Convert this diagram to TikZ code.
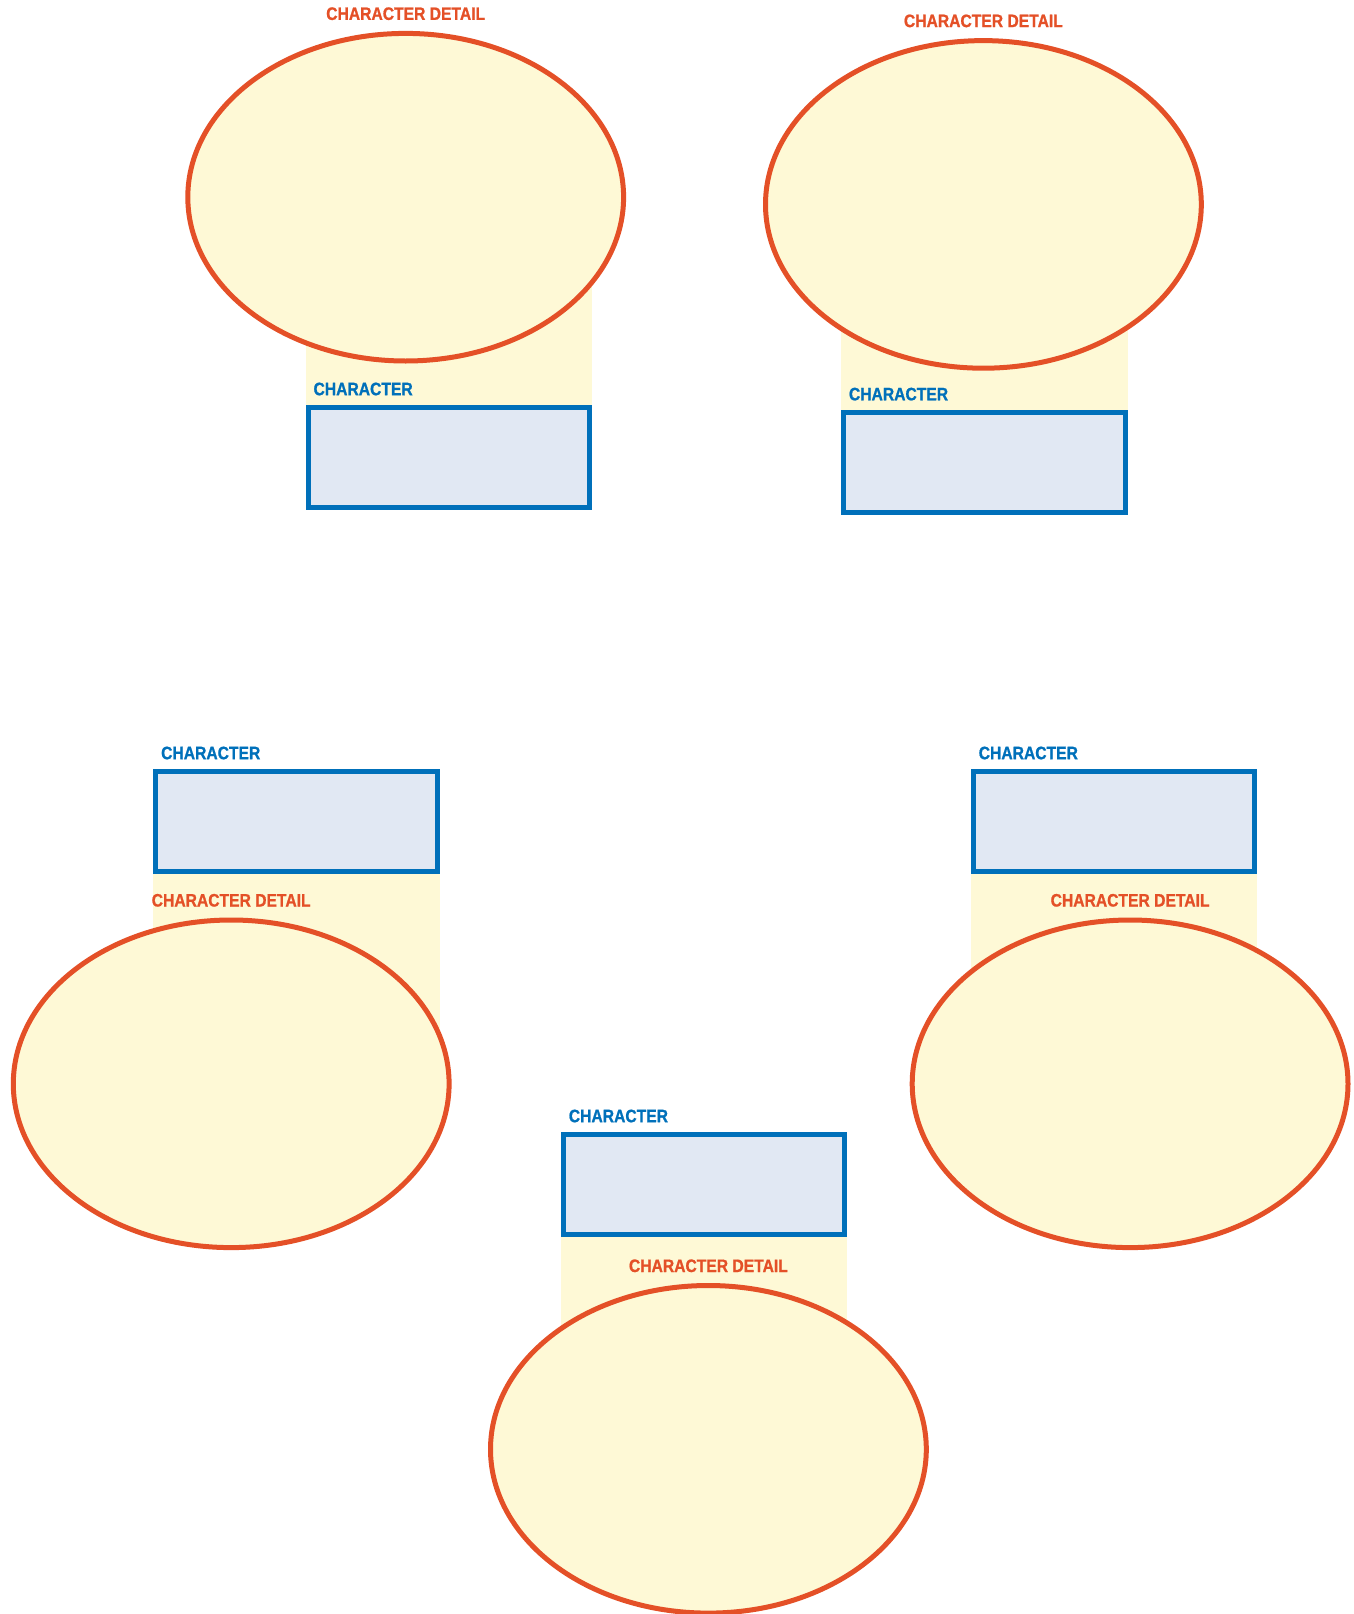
\documentclass[tikz,border=0pt]{standalone}
\usepackage{fontspec}
\newfontfamily\tagfont[FakeStretch=0.87,FakeBold=1]{Liberation Sans Bold}
\usetikzlibrary{shapes.geometric,backgrounds}

\definecolor{detailred}{RGB}{228,80,39}
\definecolor{detailfill}{RGB}{254,249,214}
\definecolor{charblue}{RGB}{0,112,186}
\definecolor{charfill}{RGB}{225,232,243}

\tikzset{
  detailoval/.style={ellipse, draw=detailred, fill=detailfill, line width=5pt,
    minimum width=435.8pt, minimum height=327.6pt, inner sep=0pt},
  charbox/.style={rectangle, draw=charblue, fill=charfill, line width=5pt,
    minimum width=281.3pt, minimum height=100pt, inner sep=0pt},
  detailtag/.style={anchor=base, inner sep=0pt, text=detailred,
    font=\tagfont\fontsize{18}{20}\selectfont},
  chartag/.style={anchor=base west, inner sep=0pt, text=charblue,
    font=\tagfont\fontsize{18}{20}\selectfont},
  linkband/.style={fill=detailfill}
}

\begin{document}
\begin{tikzpicture}[x=1pt,y=-1pt]
        \useasboundingbox (0,0) rectangle (1353,1614);

        % Top row: detail above character
        \node[detailoval] (detailA) at (405.7,197.2) {};
        \node[charbox] (charA) at (449,457.2) {};
        \node[detailoval] (detailB) at (983.4,204.4) {};
        \node[charbox] (charB) at (984.4,462.3) {};

        % Bottom row: character above detail
        \node[charbox] (charC) at (296.6,821.2) {};
        \node[detailoval] (detailC) at (231.2,1083.8) {};
        \node[charbox] (charD) at (1114.2,821.2) {};
        \node[detailoval] (detailD) at (1130.1,1083.8) {};
        \node[charbox] (charE) at (704.3,1184.2) {};
        \node[detailoval] (detailE) at (708.4,1449.3) {};

        % Yellow bands between box and oval
        \begin{scope}[on background layer]
          \foreach \g/\side in {A/north,B/north,C/south,D/south,E/south}
            \fill[linkband] (char\g.\side\space west) rectangle (detail\g.center -| char\g.east);
        \end{scope}

        % Labels
        \foreach \g in {A,B,C,D,E} {
          \node[detailtag] (detail\g tag) at ([yshift=11pt]detail\g.north) {CHARACTER DETAIL};
          \node[chartag] (char\g tag) at ([xshift=7.5pt,yshift=9.5pt]char\g.north west) {CHARACTER};
        }
      \end{tikzpicture}
\end{document}
